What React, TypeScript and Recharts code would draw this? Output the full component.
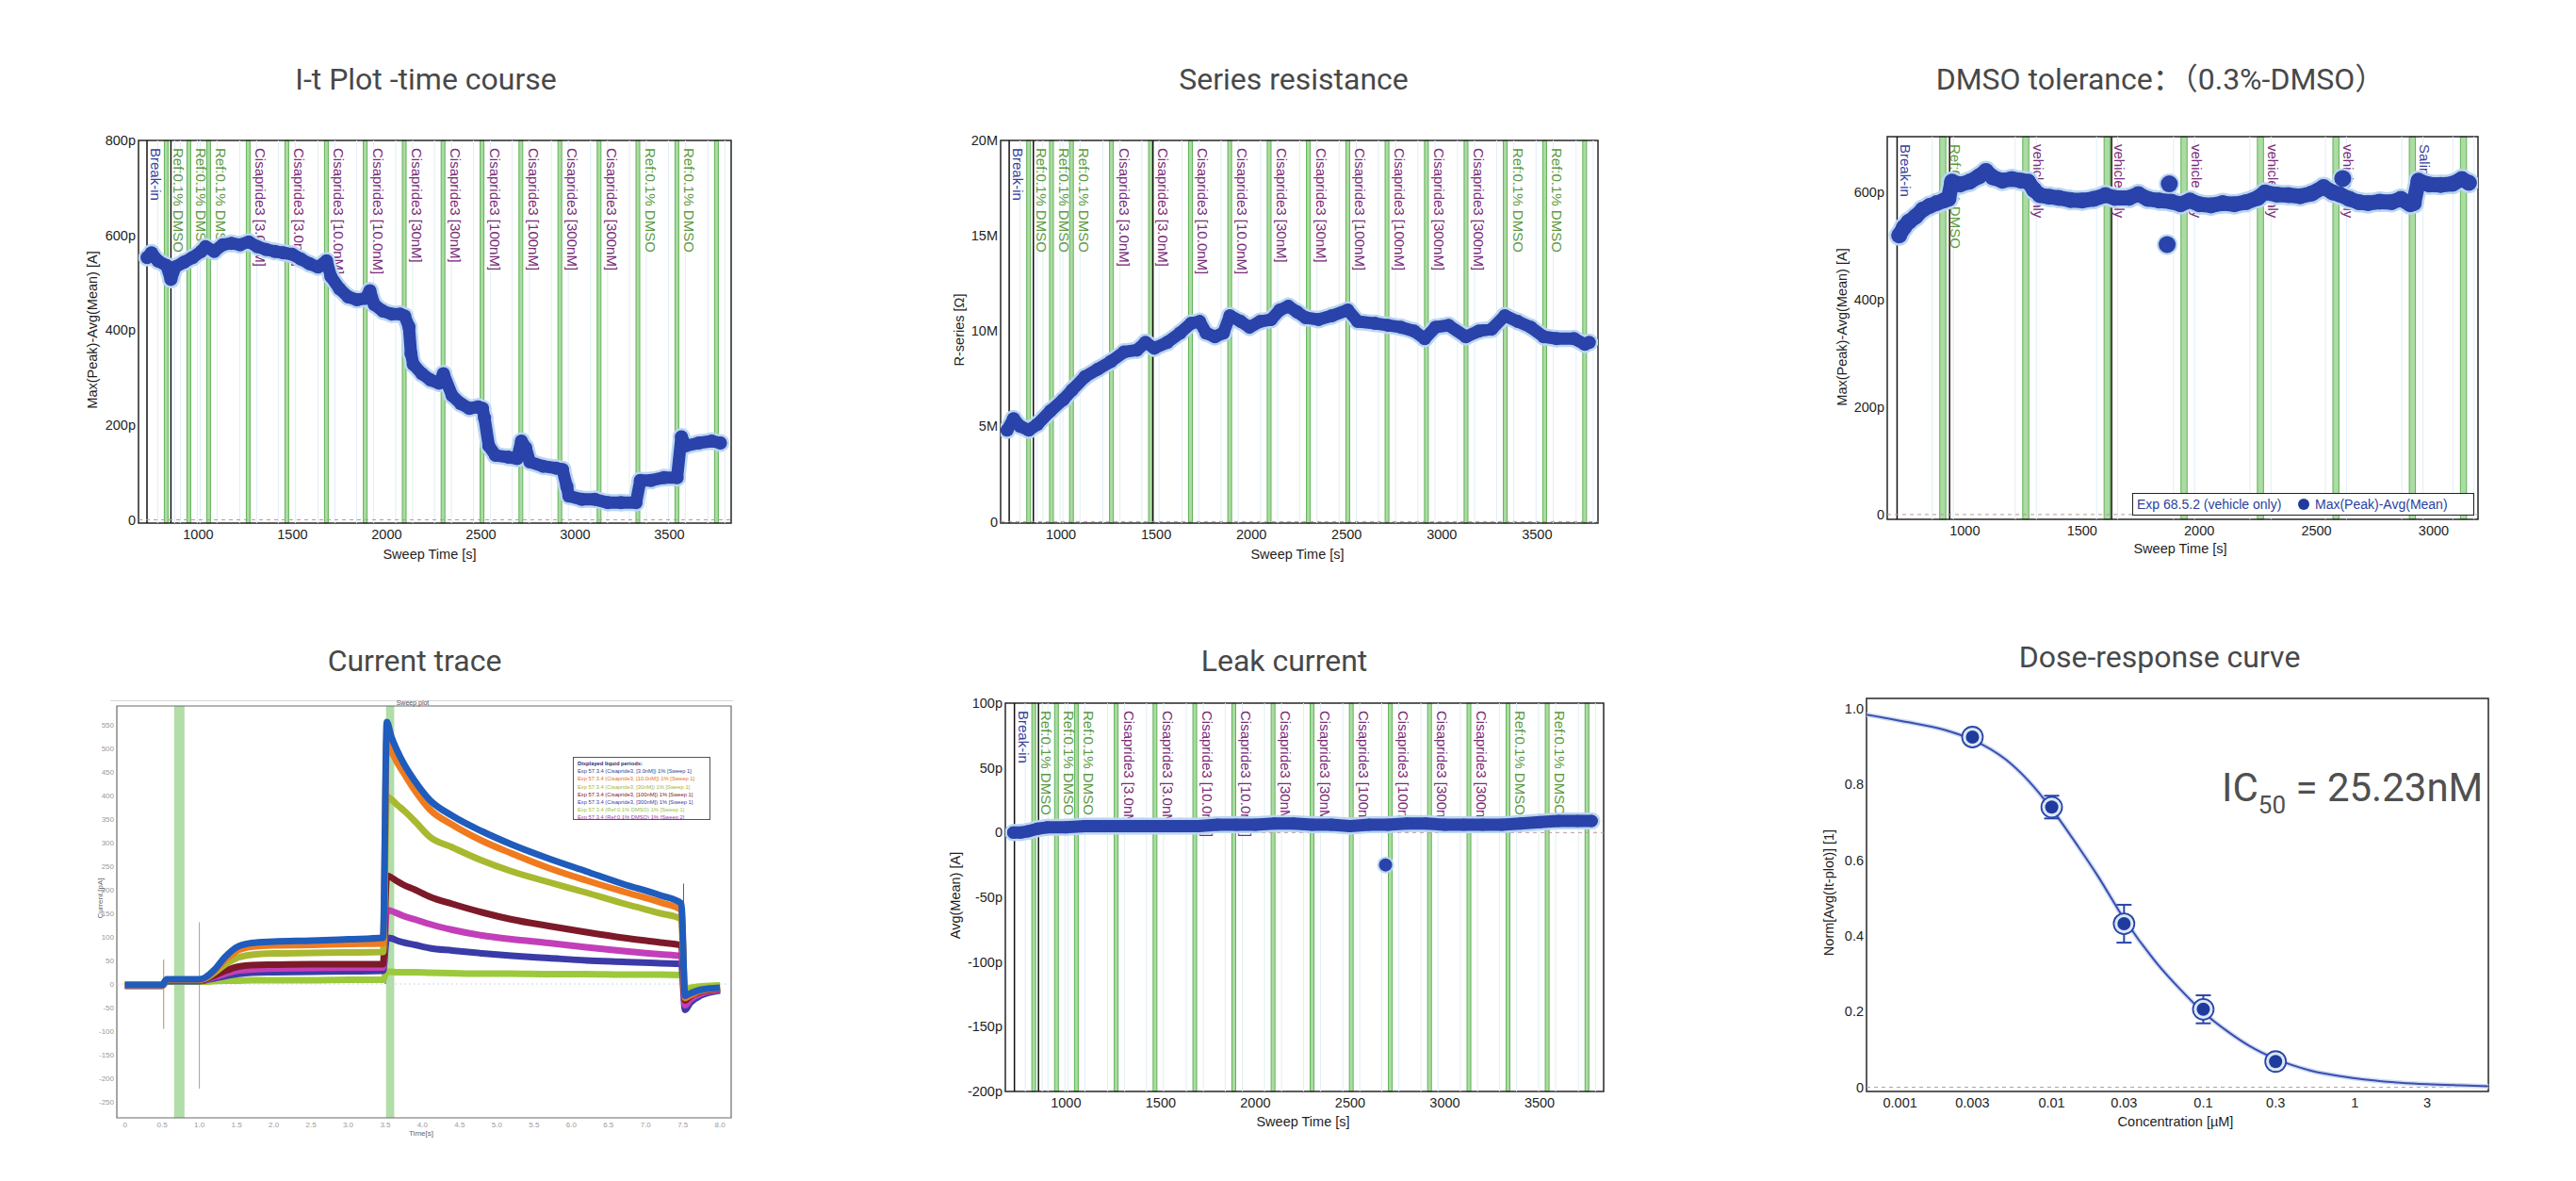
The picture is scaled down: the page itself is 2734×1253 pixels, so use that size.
import React from "react"
import {
  ComposedChart,
  Line,
  Scatter,
  XAxis,
  YAxis,
  ReferenceArea,
  ReferenceLine,
  ErrorBar,
} from "recharts"

// ---- shared sweep markers (same experiment for I-t, R-series, leak) ----
const sweepTicks = [1000, 1500, 2000, 2500, 3000, 3500]
const bandTimes = [830, 950, 1055, 1265, 1470, 1680, 1886, 2093, 2299, 2506, 2712, 2919, 3127, 3333, 3540, 3750]
const bandLabels = [
  "Ref:0.1% DMSO", "Ref:0.1% DMSO", "Ref:0.1% DMSO",
  "Cisapride3 [3.0nM]", "Cisapride3 [3.0nM]",
  "Cisapride3 [10.0nM]", "Cisapride3 [10.0nM]",
  "Cisapride3 [30nM]", "Cisapride3 [30nM]",
  "Cisapride3 [100nM]", "Cisapride3 [100nM]",
  "Cisapride3 [300nM]", "Cisapride3 [300nM]",
  "Ref:0.1% DMSO", "Ref:0.1% DMSO", "",
]
const breakInTime = 728

// I-t plot
const itTimes = [729, 752, 786, 832, 855, 878, 924, 970, 1016, 1039, 1085, 1130, 1176, 1222, 1268, 1314, 1360, 1406, 1452, 1498, 1544, 1590, 1636, 1681, 1704, 1750, 1796, 1842, 1888, 1911, 1934, 1980, 2026, 2072, 2095, 2118, 2129, 2141, 2187, 2232, 2278, 2301, 2347, 2393, 2439, 2485, 2508, 2519, 2542, 2577, 2646, 2692, 2715, 2738, 2760, 2829, 2898, 2933, 2956, 2967, 3036, 3105, 3174, 3243, 3323, 3346, 3403, 3472, 3541, 3564, 3587, 3656, 3725, 3771]
const itValues = [553, 563, 546, 536, 507, 533, 543, 553, 566, 576, 566, 580, 583, 580, 586, 576, 570, 566, 563, 560, 550, 540, 533, 546, 513, 487, 470, 464, 467, 483, 454, 440, 434, 434, 430, 407, 351, 328, 308, 295, 288, 308, 262, 245, 235, 238, 235, 215, 156, 136, 132, 129, 166, 152, 122, 113, 109, 106, 70, 50, 43, 43, 36, 36, 36, 83, 83, 89, 89, 175, 156, 162, 166, 162]

// Series resistance (MOhm)
const rsTimes = [717, 751, 785, 831, 876, 944, 1012, 1058, 1126, 1194, 1262, 1331, 1399, 1444, 1490, 1558, 1626, 1683, 1728, 1762, 1808, 1853, 1887, 1944, 1990, 2046, 2103, 2149, 2194, 2240, 2285, 2353, 2422, 2506, 2558, 2649, 2717, 2785, 2854, 2910, 2967, 3035, 3126, 3194, 3262, 3331, 3399, 3467, 3535, 3603, 3694, 3751, 3774]
const rsValues = [4.8, 5.4, 5.0, 4.8, 5.1, 5.8, 6.4, 6.9, 7.6, 8.0, 8.4, 8.9, 9.0, 9.4, 9.1, 9.4, 9.9, 10.4, 10.5, 9.9, 9.7, 9.9, 10.8, 10.5, 10.2, 10.5, 10.6, 11.1, 11.3, 11.0, 10.7, 10.6, 10.8, 11.1, 10.5, 10.4, 10.3, 10.2, 10.0, 9.6, 10.2, 10.3, 9.7, 10.0, 10.1, 10.8, 10.5, 10.2, 9.7, 9.6, 9.6, 9.3, 9.4]

// Leak current (pA)
const leakTimes = [722, 760, 800, 850, 900, 1000, 1100, 1200, 1300, 1400, 1500, 1600, 1700, 1800, 1900, 2000, 2100, 2200, 2300, 2400, 2500, 2600, 2700, 2800, 2900, 3000, 3100, 3200, 3300, 3400, 3500, 3600, 3700, 3775]
const leakValues = [0, 0, 1, 3, 4, 4, 5, 5, 5, 5, 5, 5, 5, 6, 6, 6, 7, 7, 6, 6, 5, 6, 6, 7, 7, 6, 6, 6, 6, 7, 8, 9, 9, 9]
const leakOutTimes = [2687]
const leakOutValues = [-25]

// DMSO tolerance
const dmsoTicks = [1000, 1500, 2000, 2500, 3000]
const dmsoBandTimes = [906, 1260, 1607, 1935, 2261, 2583, 2909, 3127]
const dmsoBandLabels = ["Ref:0.1% DMSO", "vehicle only", "vehicle only", "vehicle only", "vehicle only", "vehicle only", "Saline", ""]
const dmsoBreakIn = 711
const dmsoTimes = [720, 740, 760, 790, 820, 850, 880, 910, 930, 945, 980, 1020, 1060, 1090, 1120, 1160, 1200, 1240, 1270, 1295, 1320, 1360, 1400, 1450, 1500, 1550, 1600, 1640, 1700, 1740, 1780, 1830, 1880, 1920, 1960, 2000, 2050, 2100, 2150, 2200, 2250, 2280, 2330, 2380, 2430, 2480, 2530, 2570, 2600, 2640, 2680, 2720, 2770, 2820, 2860, 2900, 2915, 2935, 2980, 3030, 3080, 3120, 3150]
const dmsoValues = [520, 535, 545, 555, 568, 575, 580, 585, 588, 620, 615, 620, 630, 640, 628, 622, 625, 622, 620, 605, 595, 592, 590, 586, 585, 588, 595, 590, 590, 597, 588, 585, 583, 578, 585, 578, 576, 580, 578, 582, 590, 600, 596, 595, 593, 598, 610, 600, 596, 588, 582, 580, 583, 582, 588, 578, 580, 622, 615, 614, 616, 625, 618]
const dmsoOutTimes = [1863, 1872, 2612]
const dmsoOutValues = [503, 616, 626]

// Current trace (pA vs s)
const traceXTicks = [0, 0.5, 1, 1.5, 2, 2.5, 3, 3.5, 4, 4.5, 5, 5.5, 6, 6.5, 7, 7.5, 8]
const traceYTicks = [-250, -200, -150, -100, -50, 0, 50, 100, 150, 200, 250, 300, 350, 400, 450, 500, 550]
const traceTimes = [0, 0.5, 0.56, 1.0, 1.08, 1.2, 1.35, 1.5, 1.7, 2.0, 2.5, 3.0, 3.47, 3.52, 3.58, 3.66, 3.75, 3.9, 4.1, 4.4, 4.8, 5.2, 5.7, 6.2, 6.7, 7.2, 7.48, 7.53, 7.6, 7.75, 8.0]
const traceBlue = [-2, -2, 10, 10, 14, 30, 58, 78, 87, 90, 92, 95, 98, 556, 525, 495, 467, 430, 390, 357, 324, 296, 266, 239, 212, 188, 171, -25, -20, -12, -8]
const traceOrange = [-3, -3, 9, 9, 13, 27, 52, 70, 79, 82, 83, 85, 86, 520, 495, 470, 447, 410, 370, 338, 304, 277, 246, 220, 196, 173, 157, -30, -24, -14, -9]
const traceOlive = [-1, -1, 9, 9, 12, 24, 42, 55, 62, 65, 66, 67, 68, 398, 392, 380, 368, 345, 312, 290, 262, 239, 216, 194, 171, 150, 138, -20, -15, -10, -6]
const traceMaroon = [-2, -2, 8, 8, 10, 18, 28, 36, 40, 41, 42, 42, 42, 230, 226, 218, 210, 200, 185, 170, 152, 137, 123, 110, 98, 88, 82, -35, -26, -16, -10]
const traceMagenta = [-3, -3, 7, 7, 9, 15, 22, 28, 31, 33, 34, 35, 35, 157, 155, 150, 144, 137, 127, 115, 103, 95, 87, 78, 70, 63, 59, -45, -33, -20, -12]
const traceNavy = [-4, -4, 6, 6, 8, 12, 17, 21, 24, 25, 26, 27, 28, 98, 97, 92, 88, 83, 76, 71, 65, 60, 55, 50, 47, 44, 43, -55, -40, -24, -14]
const traceGreen = [-2, -2, 5, 5, 5, 6, 7, 7, 8, 8, 8, 9, 9, 26, 26, 25, 25, 25, 24, 23, 22, 22, 21, 21, 20, 20, 19, -10, -8, -5, -3]
const traceBandStart = [0.66, 3.51]
const traceBandEnd = [0.8, 3.62]
const spikeTimes = [0.52, 1.0, 3.5, 7.51]
const spikeLow = [-95, -222, 0, -50]
const spikeHigh = [52, 131, 240, 213]
const legendRows = [
  "Exp 57.3.4 (Cisapride3, [3.0nM]) 1% [Sweep 1]",
  "Exp 57.3.4 (Cisapride3, [10.0nM]) 1% [Sweep 1]",
  "Exp 57.3.4 (Cisapride3, [30nM]) 1% [Sweep 1]",
  "Exp 57.3.4 (Cisapride3, [100nM]) 1% [Sweep 1]",
  "Exp 57.3.4 (Cisapride3, [300nM]) 1% [Sweep 1]",
  "Exp 57.3.4 (Ref:0.1% DMSO) 1% [Sweep 1]",
  "Exp 57.3.4 (Ref:0.1% DMSO) 1% [Sweep 2]",
]

// Dose response
const doseTicks = [0.001, 0.003, 0.01, 0.03, 0.1, 0.3, 1, 3]
const doseConc = [0.003, 0.01, 0.03, 0.1, 0.3]
const doseMean = [0.925, 0.74, 0.432, 0.206, 0.068]
const doseErr = [0.02, 0.03, 0.05, 0.037, 0.02]
const fitConc = [0.0006, 0.001, 0.002, 0.003, 0.005, 0.007, 0.01, 0.015, 0.02, 0.03, 0.05, 0.07, 0.1, 0.15, 0.2, 0.3, 0.5, 1, 2, 3, 5, 7.6]
const fitValue = [0.984, 0.968, 0.943, 0.918, 0.865, 0.81, 0.735, 0.635, 0.56, 0.445, 0.325, 0.26, 0.198, 0.143, 0.11, 0.075, 0.045, 0.024, 0.012, 0.008, 0.005, 0.003]

// ---- styling ----
const FONT = "'Liberation Sans', Arial, Helvetica, sans-serif"
const TFONT = "Roboto, 'Noto Sans CJK SC', sans-serif"
const DOT = "#2a43aa"
const HALO = "#bcd6f1"
const BAND_FILL = "#acdba3"
const BAND_EDGE = "#5fb257"
const FRAME = "#262626"
const ZERO = "#b89a9a"

const YW = 80
const XH = 50
const MT = 14
const MR = 12

type Rect = { x: number; y: number; w: number; h: number }

function pairs(ts: number[], vs: number[]) {
  return ts.map((t, i) => ({ t, v: vs[i] }))
}

function labelColor(text: string) {
  if (text.startsWith("Ref")) return "#5c9a3d"
  if (text.startsWith("Break") || text.startsWith("Saline")) return "#35409c"
  return "#7a2b78"
}

function MarkerText(props: any) {
  const text = props.payload?.text ?? props.text
  if (props.cx == null || !text) return null
  const x = props.cx + (text === "Break-in" ? 4 : 8)
  const y = props.cy + 8
  return (
    <text x={x} y={y} transform={`rotate(90 ${x} ${y})`} fontSize={15} fontFamily={FONT} fill={labelColor(text)}>
      {text}
    </text>
  )
}

const dotShape = (r: number, fill: string) => (props: any) =>
  props.cx == null ? null : <circle cx={props.cx} cy={props.cy} r={r} fill={fill} />

function DoseMarker(props: any) {
  if (props.cx == null) return null
  return (
    <g>
      <circle cx={props.cx} cy={props.cy} r={11} fill="#dde7f7" stroke="#2846a8" strokeWidth={1.8} />
      <circle cx={props.cx} cy={props.cy} r={7} fill="#1f3b9e" />
    </g>
  )
}

const tickStyle = { fontSize: 14.5, fill: "#1e1e1e", fontFamily: FONT }

function SweepPanel(p: {
  plot: Rect
  xDomain: [number, number]
  xTicks: number[]
  yDomain: [number, number]
  yTicks: number[]
  yUnit: string
  bands: number[]
  labels: string[]
  half: number
  blacks: number[]
  breakIn: number
  series: { t: number; v: number }[]
  outliers?: { t: number; v: number }[]
  dotR: number
  lineW: number
}) {
  const { plot, xDomain, yDomain } = p
  const W = plot.w + YW + MR
  const H = plot.h + MT + XH
  const labelData = [
    { t: p.breakIn, v: yDomain[1], text: "Break-in" },
    ...p.bands.map((t, i) => ({ t, v: yDomain[1], text: p.labels[i] })),
  ].filter((d) => d.text)
  const faint = p.bands.flatMap((t) => [t - 45, t + 45])
  return (
    <div style={{ position: "absolute", left: plot.x - YW, top: plot.y - MT }}>
      <ComposedChart width={W} height={H} margin={{ top: MT, right: MR, left: 0, bottom: 0 }}>
        <XAxis
          type="number" dataKey="t" domain={xDomain} allowDataOverflow ticks={p.xTicks} interval={0}
          height={XH} axisLine={false} tickLine={false} tickSize={5} tickMargin={2} tick={tickStyle}
        />
        <YAxis
          type="number" domain={yDomain} allowDataOverflow ticks={p.yTicks} interval={0}
          width={YW} axisLine={false} tickLine={false} tickSize={2} tickMargin={1} tick={tickStyle}
          tickFormatter={(v: number) => (v === 0 ? "0" : `${v}${p.yUnit}`)}
        />
        {faint.map((t, i) => (
          <ReferenceLine key={`f${i}`} x={t} stroke="#e2eef6" strokeWidth={1} />
        ))}
        {p.bands.map((t, i) => (
          <ReferenceArea
            key={`b${i}`} x1={t - p.half} x2={t + p.half} y1={yDomain[0]} y2={yDomain[1]}
            fill={BAND_FILL} fillOpacity={1} stroke={BAND_EDGE} strokeWidth={1}
          />
        ))}
        {p.blacks.map((t, i) => (
          <ReferenceLine key={`k${i}`} x={t} stroke="#111" strokeWidth={1.5} />
        ))}
        <ReferenceLine y={0} stroke={ZERO} strokeDasharray="4 4" />
        <Scatter data={labelData} dataKey="v" shape={MarkerText} isAnimationActive={false} />
        <Scatter
          data={p.series} dataKey="v" shape={dotShape(p.dotR + 2.5, HALO)}
          line={{ stroke: HALO, strokeWidth: p.lineW + 5, strokeLinejoin: "round", strokeLinecap: "round" }}
          isAnimationActive={false}
        />
        {p.outliers && (
          <Scatter data={p.outliers} dataKey="v" shape={dotShape(p.dotR + 2.5, HALO)} isAnimationActive={false} />
        )}
        <Scatter
          data={p.series} dataKey="v" shape={dotShape(p.dotR, DOT)}
          line={{ stroke: DOT, strokeWidth: p.lineW, strokeLinejoin: "round", strokeLinecap: "round" }}
          isAnimationActive={false}
        />
        {p.outliers && (
          <Scatter data={p.outliers} dataKey="v" shape={dotShape(p.dotR + 0.5, DOT)} isAnimationActive={false} />
        )}
        <ReferenceArea
          x1={xDomain[0]} x2={xDomain[1]} y1={yDomain[0]} y2={yDomain[1]}
          fill="none" stroke={FRAME} strokeWidth={1.5}
        />
      </ComposedChart>
    </div>
  )
}

function TracePanel() {
  const plot = { x: 124, y: 749, w: 652, h: 437 }
  const yw = 30
  const xh = 30
  const rows = traceTimes.map((t, i) => ({
    t,
    green: traceGreen[i],
    navy: traceNavy[i],
    magenta: traceMagenta[i],
    maroon: traceMaroon[i],
    olive: traceOlive[i],
    orange: traceOrange[i],
    blue: traceBlue[i],
  }))
  const series = [
    { key: "green", color: "#9cc93c" },
    { key: "navy", color: "#3b3ba8" },
    { key: "magenta", color: "#c33fb9" },
    { key: "maroon", color: "#7d1a2a" },
    { key: "olive", color: "#a8b930" },
    { key: "orange", color: "#f07a1e" },
    { key: "blue", color: "#1f5cbc" },
  ]
  const spikeColors = ["#c08a5a", "#a0a0a0", "#8b2a30", "#9a4040"]
  const small = { fontSize: 8, fill: "#9a9a9a", fontFamily: FONT }
  const domain: [number, number] = [-284, 590]
  return (
    <div style={{ position: "absolute", left: plot.x - yw, top: plot.y - 6 }}>
      <ComposedChart width={plot.w + yw + 4} height={plot.h + 6 + xh} data={rows} margin={{ top: 6, right: 4, left: 0, bottom: 0 }}>
        <XAxis
          type="number" dataKey="t" domain={[-0.11, 8.15]} allowDataOverflow ticks={traceXTicks} interval={0}
          height={xh} axisLine={false} tickLine={false} tickSize={2} tickMargin={2} tick={small}
          tickFormatter={(v: number) => (v === 0 ? "0" : v.toFixed(1))}
        />
        <YAxis
          type="number" domain={domain} allowDataOverflow ticks={traceYTicks} interval={0}
          width={yw} axisLine={false} tickLine={false} tickSize={2} tickMargin={1} tick={small}
        />
        {traceBandStart.map((s, i) => (
          <ReferenceArea key={`tb${i}`} x1={s} x2={traceBandEnd[i]} y1={domain[0]} y2={domain[1]} fill="#a9d99e" fillOpacity={0.9} stroke="none" />
        ))}
        <ReferenceLine y={0} stroke="#c7d7e6" strokeDasharray="2 3" />
        {spikeTimes.map((s, i) => (
          <ReferenceLine
            key={`sp${i}`}
            segment={[{ x: s, y: spikeLow[i] }, { x: s, y: spikeHigh[i] }]}
            stroke={spikeColors[i]} strokeWidth={1}
          />
        ))}
        {series.map((s) => (
          <Line
            key={s.key} dataKey={s.key} type="monotone" stroke={s.color} strokeWidth={7}
            strokeLinejoin="round" dot={false} activeDot={false} isAnimationActive={false}
          />
        ))}
        <ReferenceArea x1={-0.11} x2={8.15} y1={domain[0]} y2={domain[1]} fill="none" stroke="#6a6a6a" strokeWidth={1.2} />
      </ComposedChart>
    </div>
  )
}

function DosePanel() {
  const plot = { x: 1981, y: 741, w: 660, h: 417 }
  const xDomain: [number, number] = [0.0006, 7.6]
  const yDomain: [number, number] = [-0.011, 1.027]
  const fitData = pairs(fitConc, fitValue)
  const doseData = doseConc.map((t, i) => ({ t, v: doseMean[i], err: doseErr[i] }))
  return (
    <div style={{ position: "absolute", left: plot.x - YW, top: plot.y - MT }}>
      <ComposedChart width={plot.w + YW + MR} height={plot.h + MT + XH} margin={{ top: MT, right: MR, left: 0, bottom: 0 }}>
        <XAxis
          type="number" dataKey="t" scale="log" domain={xDomain} allowDataOverflow ticks={doseTicks} interval={0}
          height={XH} axisLine={false} tickLine={false} tickSize={5} tickMargin={2} tick={tickStyle}
          tickFormatter={(v: number) => String(v)}
        />
        <YAxis
          type="number" domain={yDomain} allowDataOverflow ticks={[0, 0.2, 0.4, 0.6, 0.8, 1]} interval={0}
          width={YW} axisLine={false} tickLine={false} tickSize={2} tickMargin={1} tick={tickStyle}
          tickFormatter={(v: number) => (v === 0 ? "0" : v.toFixed(1))}
        />
        <ReferenceLine y={0} stroke={ZERO} strokeDasharray="4 4" />
        <Line data={fitData} dataKey="v" type="monotone" stroke="#cddcf2" strokeWidth={5} dot={false} activeDot={false} isAnimationActive={false} />
        <Line data={fitData} dataKey="v" type="monotone" stroke="#3b4db0" strokeWidth={2} dot={false} activeDot={false} isAnimationActive={false} />
        <Scatter data={doseData} dataKey="v" shape={DoseMarker} isAnimationActive={false}>
          <ErrorBar dataKey="err" direction="y" width={8} stroke="#2846a8" strokeWidth={2} />
        </Scatter>
        <ReferenceArea x1={xDomain[0]} x2={xDomain[1]} y1={yDomain[0]} y2={yDomain[1]} fill="none" stroke={FRAME} strokeWidth={1.5} />
      </ComposedChart>
    </div>
  )
}

function Txt(props: {
  x: number
  y: number
  children: React.ReactNode
  size?: number
  rotate?: boolean
  color?: string
  font?: string
}) {
  return (
    <div
      style={{
        position: "absolute",
        left: props.x,
        top: props.y,
        transform: `translate(-50%, -50%)${props.rotate ? " rotate(-90deg)" : ""}`,
        fontSize: props.size ?? 14.5,
        fontFamily: props.font ?? FONT,
        color: props.color ?? "#1e1e1e",
        whiteSpace: "nowrap",
        lineHeight: 1,
      }}
    >
      {props.children}
    </div>
  )
}

function Title({ cx, top, text }: { cx: number; top: number; text: string }) {
  return (
    <div
      style={{
        position: "absolute", left: cx, top, transform: "translateX(-50%)",
        fontSize: 32, lineHeight: "32px", fontFamily: TFONT, color: "#484848", whiteSpace: "nowrap",
      }}
    >
      {text}
    </div>
  )
}

export default function App() {
  const legendColors = ["#2a3f9a", "#e5701a", "#a9b433", "#7a1a28", "#3b3ba8", "#98c23a", "#a03ca0"]
  return (
    <div style={{ position: "absolute", left: 0, top: 0, width: 2734, height: 1253, background: "#fff", overflow: "hidden" }}>
      <Title cx={452} top={68} text="I-t Plot -time course" />
      <Title cx={1373} top={68} text="Series resistance" />
      <Title cx={2293} top={68} text="DMSO tolerance：（0.3%-DMSO）" />
      <Title cx={440} top={685} text="Current trace" />
      <Title cx={1363} top={685} text="Leak current" />
      <Title cx={2292} top={681} text="Dose-response curve" />

      <SweepPanel
        plot={{ x: 147, y: 149, w: 629, h: 406 }}
        xDomain={[683, 3828]} xTicks={sweepTicks}
        yDomain={[-7, 800]} yTicks={[0, 200, 400, 600, 800]} yUnit="p"
        bands={bandTimes} labels={bandLabels} half={10} blacks={[breakInTime, 855]} breakIn={breakInTime}
        series={pairs(itTimes, itValues)} dotR={7} lineW={13}
      />
      <SweepPanel
        plot={{ x: 1062, y: 149, w: 634, h: 406 }}
        xDomain={[683, 3820]} xTicks={sweepTicks}
        yDomain={[-0.08, 20]} yTicks={[0, 5, 10, 15, 20]} yUnit="M"
        bands={bandTimes} labels={bandLabels} half={10} blacks={[breakInTime, 855, 1483]} breakIn={breakInTime}
        series={pairs(rsTimes, rsValues)} dotR={7} lineW={13}
      />
      <SweepPanel
        plot={{ x: 2003, y: 145, w: 627, h: 406 }}
        xDomain={[669, 3189]} xTicks={dmsoTicks}
        yDomain={[-9, 704]} yTicks={[0, 200, 400, 600]} yUnit="p"
        bands={dmsoBandTimes} labels={dmsoBandLabels} half={13} blacks={[dmsoBreakIn, 935, 1626]} breakIn={dmsoBreakIn}
        series={pairs(dmsoTimes, dmsoValues)} outliers={pairs(dmsoOutTimes, dmsoOutValues)} dotR={8.5} lineW={16}
      />
      <SweepPanel
        plot={{ x: 1067, y: 746, w: 635, h: 412 }}
        xDomain={[680, 3838]} xTicks={sweepTicks}
        yDomain={[-200, 100]} yTicks={[-200, -150, -100, -50, 0, 50, 100]} yUnit="p"
        bands={bandTimes} labels={bandLabels} half={10} blacks={[breakInTime, 855]} breakIn={breakInTime}
        series={pairs(leakTimes, leakValues)} outliers={pairs(leakOutTimes, leakOutValues)} dotR={6.5} lineW={13}
      />
      <TracePanel />
      <DosePanel />

      {/* axis titles */}
      <Txt x={98} y={350} rotate>Max(Peak)-Avg(Mean) [A]</Txt>
      <Txt x={456} y={588}>Sweep Time [s]</Txt>
      <Txt x={1018} y={350} rotate>R-series [Ω]</Txt>
      <Txt x={1377} y={588}>Sweep Time [s]</Txt>
      <Txt x={1955} y={347} rotate>Max(Peak)-Avg(Mean) [A]</Txt>
      <Txt x={2314} y={582}>Sweep Time [s]</Txt>
      <Txt x={1014} y={950} rotate>Avg(Mean) [A]</Txt>
      <Txt x={1383} y={1190}>Sweep Time [s]</Txt>
      <Txt x={1941} y={947} rotate>Norm[Avg(It-plot)] [1]</Txt>
      <Txt x={2309} y={1190}>Concentration [µM]</Txt>
      <Txt x={107} y={953} rotate size={8} color="#666">Current [pA]</Txt>
      <Txt x={447} y={1203} size={8} color="#666">Time[s]</Txt>

      {/* current trace decorations */}
      <div style={{ position: "absolute", left: 117, top: 743, width: 661, borderTop: "1px solid #d8d8d8" }} />
      <Txt x={438} y={745} size={7} color="#555">Sweep plot</Txt>
      <div
        style={{
          position: "absolute", left: 608, top: 803, width: 146, height: 67, boxSizing: "border-box",
          border: "1px solid #555", background: "#fff", padding: "2px 4px", fontFamily: FONT, fontSize: 5.8, lineHeight: "8.2px",
        }}
      >
        <div style={{ color: "#2a2a70", fontWeight: 700 }}>Displayed liquid periods:</div>
        {legendRows.map((r, i) => (
          <div key={r} style={{ color: legendColors[i], whiteSpace: "nowrap" }}>{r}</div>
        ))}
      </div>

      {/* DMSO legend */}
      <div
        style={{
          position: "absolute", left: 2263, top: 523, width: 363, height: 24, boxSizing: "border-box",
          border: "1.5px solid #222", background: "#fff", fontFamily: FONT, fontSize: 14, color: "#2b3fa0",
        }}
      >
        <span style={{ position: "absolute", left: 4, top: 4, lineHeight: "14px" }}>Exp 68.5.2 (vehicle only)</span>
        <span style={{ position: "absolute", left: 175, top: 5, width: 12, height: 12, borderRadius: 6, background: "#1f3b9e" }} />
        <span style={{ position: "absolute", left: 193, top: 4, lineHeight: "14px" }}>Max(Peak)-Avg(Mean)</span>
      </div>

      {/* IC50 annotation */}
      <div
        style={{
          position: "absolute", left: 2358, top: 815, fontSize: 42, lineHeight: "42px",
          fontFamily: TFONT, color: "#505050", whiteSpace: "nowrap",
        }}
      >
        IC<span style={{ fontSize: 26, position: "relative", top: 13 }}>50</span> = 25.23nM
      </div>
    </div>
  )
}
